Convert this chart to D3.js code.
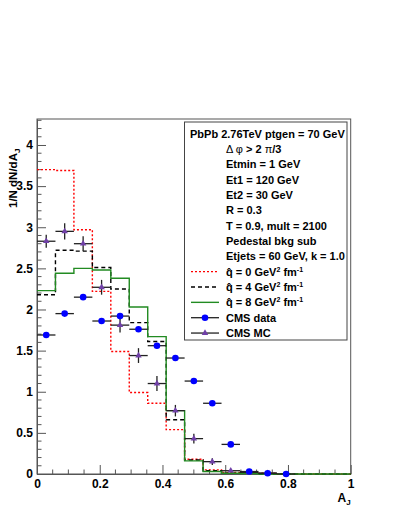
<!DOCTYPE html>
<html>
<head>
<meta charset="utf-8">
<script src="https://cdn.jsdelivr.net/npm/d3@7"></script>
<style>
  body { margin: 0; background: #fff; }
  svg { display: block; font-family: "Liberation Sans", Arial, sans-serif; font-weight: bold; }
</style>
</head>
<body>
<svg id="chart" width="399" height="516"></svg>
<script>
// binning: 17 bins on [0, 1]
const nBins = 17;

// model histograms (one value per bin)
const q0 = [3.70, 3.69, 2.97, 2.22, 1.49, 0.99, 0.86, 0.54, 0.18, 0.05, 0.02, 0.01, 0.01, 0, 0, 0, 0];
const q4 = [2.18, 2.72, 2.71, 2.51, 2.25, 1.84, 1.61, 0.66, 0.17, 0.04, 0.01, 0.01, 0, 0, 0, 0, 0];
const q8 = [2.23, 2.44, 2.50, 2.48, 2.38, 2.03, 1.67, 0.77, 0.16, 0.03, 0.01, 0.005, 0, 0, 0, 0, 0];

// CMS points (one per bin, starting at first bin)
const cmsData = [1.69, 1.95, 2.15, 1.86, 1.92, 1.76, 1.56, 1.41, 1.13, 0.86, 0.36, 0.03, 0.01, 0.0];
const cmsDataErr = [0.03, 0.03, 0.03, 0.03, 0.03, 0.03, 0.03, 0.03, 0.03, 0.02, 0.02, 0.01, 0.01, 0.01];
const cmsMC = [2.83, 2.95, 2.80, 2.27, 1.81, 1.44, 1.10, 0.77, 0.43, 0.15, 0.04, 0.02, 0.01];
const cmsMCErr = [0.08, 0.10, 0.09, 0.09, 0.09, 0.09, 0.09, 0.07, 0.06, 0.04, 0.02, 0.01, 0.01];

// axis ticks
const xTicks = [0, 0.2, 0.4, 0.6, 0.8, 1];
const xTickLabels = ["0", "0.2", "0.4", "0.6", "0.8", "1"];
const yTicks = [0, 0.5, 1, 1.5, 2, 2.5, 3, 3.5, 4];
const yTickLabels = ["0", "0.5", "1", "1.5", "2", "2.5", "3", "3.5", "4"];

// legend text
const infoLines = ["Etmin = 1 GeV", "Et1 = 120 GeV", "Et2 = 30 GeV", "R = 0.3",
  "T = 0.9, mult = 2100", "Pedestal bkg sub", "Etjets = 60 GeV, k = 1.0"];
const qhatValues = ["0", "4", "8"];

const svg = d3.select("#chart");
const pLeft = 37, pRight = 350.7, pTop = 119, pBottom = 474;

const x = d3.scaleLinear().domain([0, 1]).range([pLeft, pRight]);
const y = d3.scaleLinear().domain([0, 4.316]).range([pBottom, pTop]);
const bw = 1 / nBins;

// cadre
svg.append("rect")
  .attr("x", pLeft).attr("y", pTop)
  .attr("width", pRight - pLeft).attr("height", pBottom - pTop)
  .attr("fill", "none").attr("stroke", "#555").attr("stroke-width", 1);

// axes
const minorY = d3.range(0, 4.31, 0.1).filter(v => Math.abs(v * 2 - Math.round(v * 2)) > 1e-6);
const minorX = d3.range(0, 1.001, 0.05).filter(v => Math.abs(v * 5 - Math.round(v * 5)) > 1e-6);

const yAxis = svg.append("g").attr("transform", `translate(${pLeft},0)`)
  .call(d3.axisLeft(y).tickValues(yTicks).tickSizeInner(-9).tickSizeOuter(0).tickPadding(4)
    .tickFormat((d, i) => yTickLabels[i]));
yAxis.append("g").selectAll("line").data(minorY).join("line")
  .attr("x1", 0).attr("x2", 4.5).attr("y1", d => y(d)).attr("y2", d => y(d));

const xAxis = svg.append("g").attr("transform", `translate(0,${pBottom})`)
  .call(d3.axisBottom(x).tickValues(xTicks).tickSizeInner(-9).tickSizeOuter(0).tickPadding(5)
    .tickFormat((d, i) => xTickLabels[i]));
xAxis.append("g").selectAll("line").data(minorX).join("line")
  .attr("x1", d => x(d)).attr("x2", d => x(d)).attr("y1", 0).attr("y2", -4.5);

svg.selectAll(".domain").attr("stroke", "#555");
svg.selectAll("g line").attr("stroke", "#555");
svg.selectAll(".tick text").attr("font-size", 12).attr("font-weight", "bold")
  .attr("font-family", "Liberation Sans, Arial, sans-serif").attr("fill", "#000");

// titres des axes
const yTitle = svg.append("text")
  .attr("transform", `translate(17,208) rotate(-90)`)
  .attr("text-anchor", "start").attr("font-size", 11.5);
yTitle.append("tspan").text("1/N dN/dA");
yTitle.append("tspan").attr("font-size", 8).attr("dy", 3).text("J");

const xTitle = svg.append("text")
  .attr("x", pRight).attr("y", 502).attr("text-anchor", "end").attr("font-size", 12);
xTitle.append("tspan").text("A");
xTitle.append("tspan").attr("font-size", 8).attr("dy", 3).text("J");

// histogrammes
const step = d3.line().curve(d3.curveStepAfter).x(d => x(d[0])).y(d => y(d[1]));
function histPoints(vals) {
  let pts = vals.map((v, i) => [i * bw, v]);
  pts.push([1, vals[vals.length - 1]]);
  return pts;
}
const histStyles = [
  {vals: q0, color: "#ff0000", dash: "2,2"},
  {vals: q4, color: "#000000", dash: "4,3"},
  {vals: q8, color: "#228b22", dash: null}
];
histStyles.forEach(h => {
  svg.append("path")
    .attr("d", step(histPoints(h.vals)))
    .attr("fill", "none").attr("stroke", h.color).attr("stroke-width", 1.4)
    .attr("stroke-dasharray", h.dash);
});

// points CMS
function drawPoints(vals, errs, marker) {
  const g = svg.append("g");
  vals.forEach((v, i) => {
    const cx = x((i + 0.5) * bw);
    g.append("line").attr("x1", x(i * bw)).attr("x2", x((i + 1) * bw))
      .attr("y1", y(v)).attr("y2", y(v)).attr("stroke", "#222").attr("stroke-width", 1.3);
    g.append("line").attr("x1", cx).attr("x2", cx)
      .attr("y1", y(v - errs[i])).attr("y2", y(v + errs[i])).attr("stroke", "#222").attr("stroke-width", 1.3);
    marker(g, cx, y(v));
  });
}
const blueDot = (g, cx, cy) => g.append("circle").attr("cx", cx).attr("cy", cy).attr("r", 3.3).attr("fill", "#0000ff");
const purpleTri = (g, cx, cy) => g.append("path")
  .attr("d", d3.symbol().type(d3.symbolTriangle).size(18)())
  .attr("transform", `translate(${cx},${cy})`).attr("fill", "#7040a8");

drawPoints(cmsMC, cmsMCErr, purpleTri);
drawPoints(cmsData, cmsDataErr, blueDot);

// légende
const leg = svg.append("g");
leg.append("rect").attr("x", 184.5).attr("y", 122).attr("width", 162.5).attr("height", 218)
  .attr("fill", "#fff").attr("stroke", "#444").attr("stroke-width", 1);
const rowY = i => 133.5 + i * 15.35;
const fs = 11;

leg.append("text").attr("x", 190).attr("y", rowY(0) + 4).attr("font-size", fs)
  .text("PbPb 2.76TeV ptgen = 70 GeV");
const dphi = leg.append("text").attr("x", 226).attr("y", rowY(1) + 4).attr("font-size", fs);
dphi.append("tspan").attr("font-weight", "normal").text("Δ φ");
dphi.append("tspan").text(" > 2 ");
dphi.append("tspan").attr("font-weight", "normal").text("π");
dphi.append("tspan").text("/3");
infoLines.forEach((t, i) => {
  leg.append("text").attr("x", 226).attr("y", rowY(i + 2) + 4).attr("font-size", fs).text(t);
});

histStyles.forEach((h, i) => {
  const cy = rowY(9 + i);
  leg.append("line").attr("x1", 191).attr("x2", 219).attr("y1", cy).attr("y2", cy)
    .attr("stroke", h.color).attr("stroke-width", 1.4).attr("stroke-dasharray", h.dash);
  const t = leg.append("text").attr("x", 226).attr("y", cy + 4).attr("font-size", fs);
  t.append("tspan").text("q\u0302 = " + qhatValues[i] + " GeV");
  t.append("tspan").attr("font-size", 7).attr("dy", -4).text("2");
  t.append("tspan").attr("dy", 4).text(" fm");
  t.append("tspan").attr("font-size", 7).attr("dy", -4).text("-1");
});

[["CMS data", blueDot], ["CMS MC", purpleTri]].forEach((e, i) => {
  const cy = rowY(12 + i);
  leg.append("line").attr("x1", 191).attr("x2", 219).attr("y1", cy).attr("y2", cy)
    .attr("stroke", "#222").attr("stroke-width", 1.3);
  e[1](leg, 205, cy);
  leg.append("text").attr("x", 226).attr("y", cy + 4).attr("font-size", fs).text(e[0]);
});
</script>
</body>
</html>
